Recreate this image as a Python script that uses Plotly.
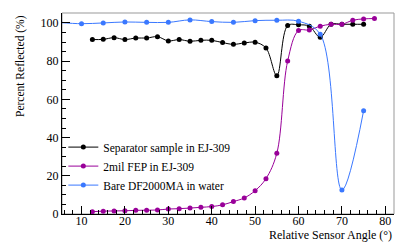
import plotly.graph_objects as go

# Separator sample in EJ-309
sep_x = [12.5, 15, 17.5, 20, 22.5, 25, 27.5, 30, 32.5, 35, 37.5, 40, 42.5, 45, 47.5,
         50, 52.5, 55, 57.5, 60, 62.5, 65, 67.5, 70, 72.5, 75]
sep_y = [91.3, 91.4, 92.3, 91.3, 92.1, 92.1, 92.8, 90.6, 91.3, 90.4, 90.9, 90.9, 89.7, 88.8, 89.5,
         89.9, 86.9, 72.4, 98.6, 99.0, 98.3, 92.5, 99.3, 99.3, 99.3, 99.3]

# 2mil FEP in EJ-309
fep_x = [12.5, 15, 17.5, 20, 22.5, 25, 27.5, 30, 32.5, 35, 37.5, 40, 42.5, 45, 47.5,
         50, 52.5, 55, 57.5, 60, 62.5, 65, 67.5, 70, 72.5, 75, 77.5]
fep_y = [1.2, 1.5, 1.6, 1.7, 1.9, 2.0, 2.1, 2.6, 2.8, 3.1, 3.5, 3.9, 4.8, 6.5, 8.4,
         12.2, 18.5, 31.8, 80.1, 96.0, 96.3, 98.3, 99.3, 99.3, 101.4, 102.1, 102.3]

# Bare DF2000MA in water
df_x = [5, 10, 15, 20, 25, 30, 35, 40, 45, 50, 55, 60, 65, 70, 75]
df_y = [100.2, 99.6, 100.0, 100.5, 100.3, 100.3, 101.6, 100.7, 100.3, 101.2, 101.4, 100.9, 94.1, 12.6, 54.1]

x_ticks = [10, 20, 30, 40, 50, 60, 70, 80]
y_ticks = [0, 20, 40, 60, 80, 100]

SERIF = "Liberation Serif"

fig = go.Figure()
series = [
    ("Separator sample in EJ-309", sep_x, sep_y, "#000000"),
    ("2mil FEP in EJ-309", fep_x, fep_y, "#990099"),
    ("Bare DF2000MA in water", df_x, df_y, "#3a78ff"),
]
for name, xs, ys, col in series:
    fig.add_trace(go.Scatter(
        x=xs, y=ys, name=name, mode="lines+markers",
        line=dict(color=col, width=1, shape="spline", smoothing=1.0),
        marker=dict(color=col, size=5),
        cliponaxis=True,
    ))

axis_common = dict(
    showgrid=False, zeroline=False, showline=True, linecolor="black", linewidth=1,
    ticks="inside", ticklen=8, tickcolor="black", tickwidth=1, automargin=False,
    tickfont=dict(family=SERIF, size=12, color="black"),
)
fig.update_xaxes(
    range=[5.5, 82], tickvals=x_ticks, **axis_common, ticklabelstandoff=-4,
    minor=dict(ticks="inside", ticklen=4, dtick=2, tickcolor="black", tickwidth=1),
)
fig.update_yaxes(
    range=[0, 105.2], tickvals=y_ticks, **axis_common,
    minor=dict(ticks="inside", ticklen=4, dtick=5, tickcolor="black", tickwidth=1),
)

# gray frame on top/right
fig.add_shape(type="rect", xref="paper", yref="paper", x0=0, y0=0, x1=1, y1=1,
              line=dict(color="#999999", width=1), layer="below")

# axis titles (ROOT style: aligned to the end of the axis)
fig.add_annotation(text="Relative Sensor Angle (°)", xref="paper", yref="paper",
                   x=1, y=-0.106, xanchor="right", yanchor="middle", showarrow=False,
                   font=dict(family=SERIF, size=12, color="black"))
fig.add_annotation(text="Percent Reflected (%)", xref="paper", yref="paper",
                   x=-0.1265, y=1, xanchor="center", yanchor="top", textangle=-90,
                   showarrow=False, font=dict(family=SERIF, size=11.5, color="black"))

# page body has an 8px default margin; compensate so the frame lands where intended
fig.update_layout(
    width=407, height=244,
    margin=dict(l=54, r=21, t=5, b=38),
    paper_bgcolor="white", plot_bgcolor="white",
    font=dict(family=SERIF, size=12, color="black"),
    legend=dict(x=0.004, y=0.405, xanchor="left", yanchor="top",
                bgcolor="rgba(0,0,0,0)", font=dict(family=SERIF, size=11.5),
                itemwidth=30, tracegroupgap=0),
    showlegend=True,
)

fig.write_html("out.html")
